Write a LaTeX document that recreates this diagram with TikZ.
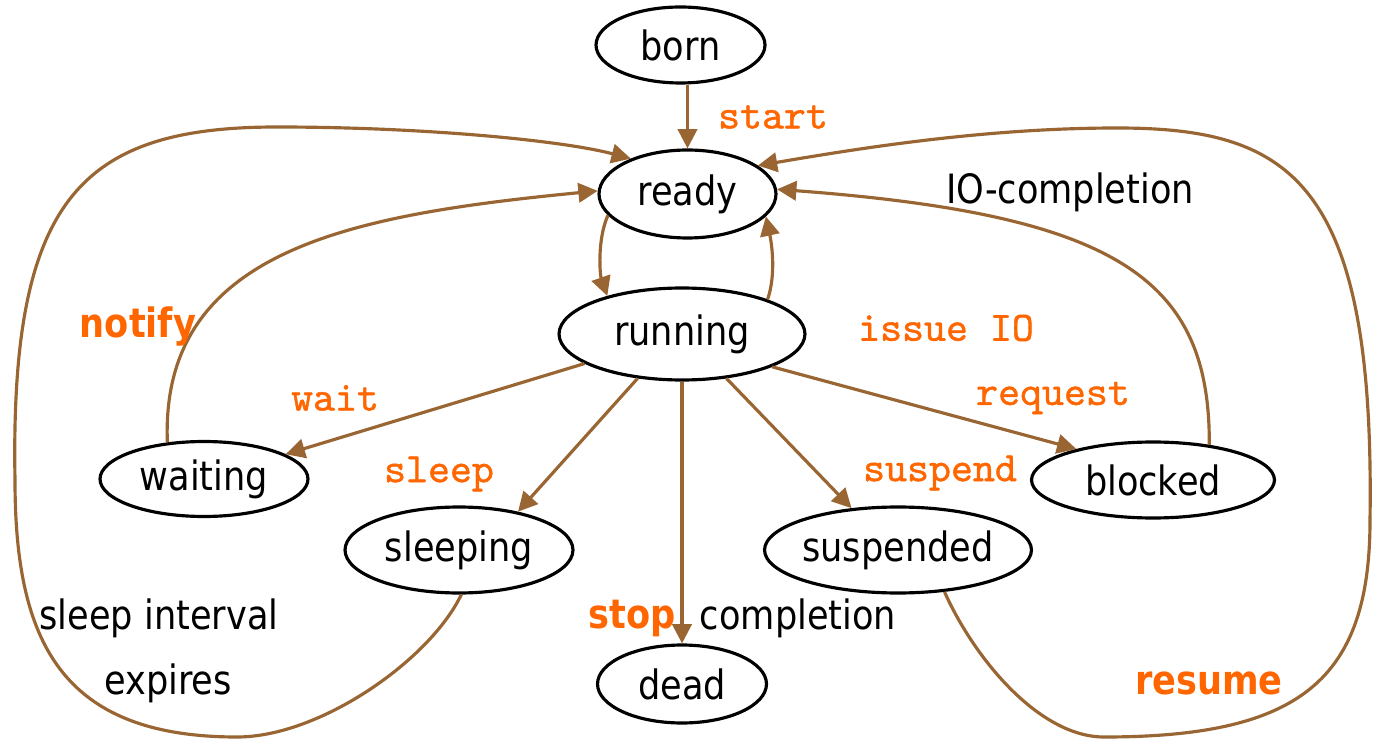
\documentclass[tikz,border=0pt]{standalone}
\usepackage{fontspec}
\setmainfont{DejaVu Sans}[FakeStretch=0.87]
\newfontfamily\monof{lmmono10-regular.otf}[FakeBold=1.0]
\usetikzlibrary{arrows.meta,shapes.geometric}
\definecolor{arrbrown}{RGB}{153,102,51}
\definecolor{lblorange}{RGB}{255,102,0}
\begin{document}
\begin{tikzpicture}[x=0.02cm, y=-0.02cm,
  state/.style={ellipse, draw=black, line width=1.8pt, inner sep=0pt},
  link/.style={draw=arrbrown, line width=1.8pt, -{Triangle[length=11pt,width=11pt]}},
  nodetext/.style={font=\fontsize{23}{27}\selectfont},
  ev/.style={font=\monof\fontsize{23.8}{27}\selectfont, text=lblorange, inner sep=0pt},
  evb/.style={font=\bfseries\fontsize{23}{27}\selectfont, text=lblorange, inner sep=0pt},
  note/.style={font=\fontsize{23}{27}\selectfont, inner sep=0pt}
]
\fill[white] (0,0) rectangle (1375,739);
\useasboundingbox (0,0) rectangle (1375,739);

% states
\node[state, minimum width=3.38cm, minimum height=1.52cm, label={[nodetext]center:born}] (born) at (680.5,45) {};
\node[state, minimum width=3.54cm, minimum height=1.76cm, label={[nodetext]center:ready}] (ready) at (687.5,194) {};
\node[state, minimum width=4.92cm, minimum height=1.84cm, label={[nodetext]center:running}] (running) at (682,334) {};
\node[state, minimum width=4.16cm, minimum height=1.50cm, label={[nodetext]center:waiting}] (waiting) at (204,479) {};
\node[state, minimum width=4.56cm, minimum height=1.72cm, label={[nodetext]center:sleeping}] (sleeping) at (459,550) {};
\node[state, minimum width=5.34cm, minimum height=1.72cm, label={[nodetext]center:suspended}] (suspended) at (898,550) {};
\node[state, minimum width=4.86cm, minimum height=1.52cm, label={[nodetext]center:blocked}] (blocked) at (1153,480) {};
\node[state, minimum width=3.38cm, minimum height=1.56cm, label={[nodetext]center:dead}] (dead) at (682,684) {};

% straight transitions
\draw[link] (ready.north |- born.south) -- (ready.north);
\draw[link] (running) -- (waiting);
\draw[link] (running.225) -- (sleeping.33);
\draw[link] (running.south) -- (dead.north);
\draw[link] (running.315) -- (suspended.138);
\draw[link] (running.340) -- (blocked.158);

% ready <-> running
\draw[link] (ready.195) .. controls (597,240) and (600,275) .. (running.153);
\draw[link] (running.22) .. controls (776,275) and (772,245) .. (ready.344);

% notify and IO completion
\draw[link] (waiting.135) .. controls (160,250) and (350,215) .. (ready.178);
\draw[link] (blocked.32) .. controls (1210,280) and (1120,215) .. (ready.3);

% sleep interval expires (left loop)
\draw[link] (sleeping.-87) .. controls (430,660) and (320,737) .. (237,737)
  .. controls (60,737) and (15,640) .. (15,480)
  .. controls (10,200) and (80,127) .. (277,127)
  .. controls (420,127) and (560,140) .. (ready.148);

% resume (right loop)
\draw[link] (suspended.-42) .. controls (975,660) and (1040,737) .. (1104,737)
  .. controls (1300,737) and (1370,680) .. (1370,520)
  .. controls (1375,180) and (1290,128) .. (1117,128)
  .. controls (980,128) and (850,150) .. (ready.22);

% labels
\node[ev] (lstart) at (773,117) {start};
\node[note] (lio) at (1070,192) {IO-completion};
\node[evb] (lnotify) at (138,327) {notify};
\node[ev] (lissue) at (946,328) {issue IO};
\node[ev] (lwait) at (335,398) {wait};
\node[ev] (lrequest) at (1053,398) {request};
\node[ev] (lsleep) at (439,474) {sleep};
\node[ev] (lsuspend) at (940,473) {suspend};
\node[note] (lsi) at (159,618) {sleep interval};
\node[note] (lexp) at (168,683) {expires};
\node[evb] (lstop) at (632,619) {stop};
\node[note] (lcomp) at (798,618) {completion};
\node[evb] (lresume) at (1209,683) {resume};
\end{tikzpicture}
\end{document}
